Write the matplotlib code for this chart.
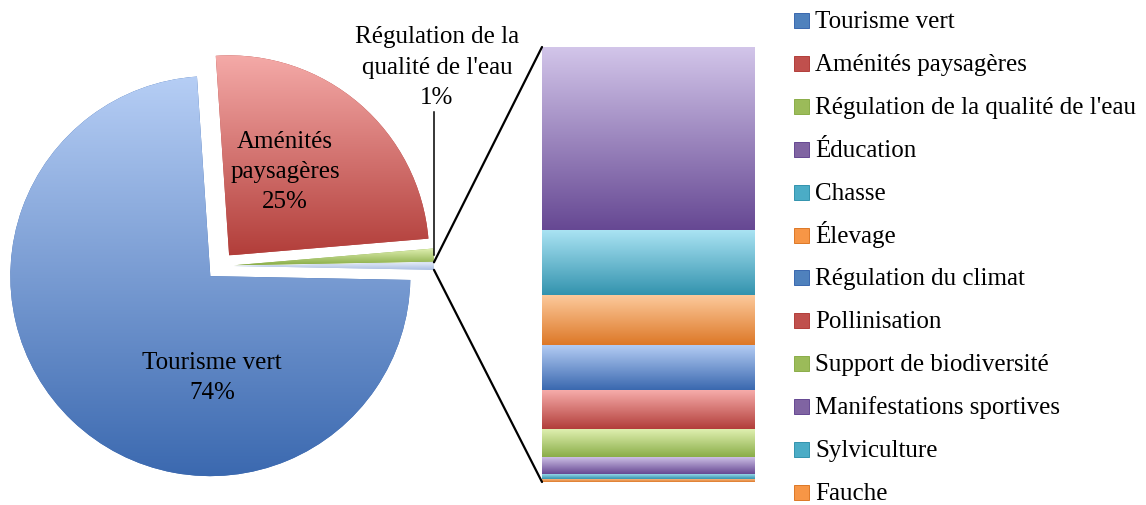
import numpy as np
import matplotlib
matplotlib.use("Agg")
import matplotlib.pyplot as plt
from matplotlib.colors import LinearSegmentedColormap
from matplotlib.patches import Rectangle, ConnectionPatch

# ---------------- data ----------------
pie_labels = ["Tourisme vert", "Aménités paysagères", "Régulation de la qualité de l'eau"]
pie_values = [53000, 17800, 750]

bar_labels = ["Éducation", "Chasse", "Élevage", "Régulation du climat", "Pollinisation",
              "Support de biodiversité", "Manifestations sportives", "Sylviculture", "Fauche"]
bar_values = [182, 64, 50, 45, 38, 28, 17, 5, 3]

# ---------------- style ----------------
FONT = "Liberation Serif"
FS = 18
plt.rcParams["font.family"] = [FONT, "DejaVu Serif"]

grad = {
    "blue":   ("#B6CEF5", "#3A68AF"),
    "red":    ("#F6ACAA", "#B23E3A"),
    "green":  ("#E2F2B4", "#8AAD48"),
    "purple": ("#D3C6EA", "#664893"),
    "aqua":   ("#AAE3F3", "#3393AE"),
    "orange": ("#FDCB9E", "#DD7827"),
    "other":  ("#E6EDF8", "#A9BEE2"),
}
solid = {"blue": "#4F81BD", "red": "#C0504D", "green": "#9BBB59",
         "purple": "#8064A2", "aqua": "#4BACC6", "orange": "#F79646"}
pie_cols = ["blue", "red", "green", "other"]
bar_cols = ["purple", "aqua", "orange", "blue", "red", "green", "purple", "aqua", "orange"]

W, H = 1146, 505
fig = plt.figure(figsize=(W / 100, H / 100), dpi=100)
ax = fig.add_axes([0, 0, 1, 1])


def gradient_fill(axis, patch, key, z):
    verts = patch.get_patch_transform().transform(patch.get_path().vertices)
    x0, y0 = verts.min(axis=0)
    x1, y1 = verts.max(axis=0)
    top, bot = grad[key]
    cmap = LinearSegmentedColormap.from_list("g", [bot, top])
    g = np.linspace(0, 1, 256).reshape(-1, 1)
    im = axis.imshow(g, extent=[x0, x1, y0, y1], origin="lower", cmap=cmap,
                     aspect="auto", zorder=z, interpolation="bicubic")
    im.set_clip_path(patch)
    return im


# ---------------- pie ----------------
other = sum(bar_values)
vals = pie_values + [other]
center = (220, H - 266)
R = 200
wedges, _ = ax.pie(vals, radius=R, center=center, startangle=-1.1, counterclock=False,
                   explode=[0.07 * R] * 4, frame=True,
                   wedgeprops=dict(linewidth=0.8))
for w, c in zip(wedges, pie_cols):
    w.set_facecolor(grad[c][1])
    w.set_edgecolor("#ffffff00")
    w.set_zorder(2)
    gradient_fill(ax, w, c, 2.5)

total = sum(vals)
pct = [round(100 * v / total) for v in vals]

LS = 1.5
ax.text(212, H - 378, f"{pie_labels[0]}\n{pct[0]}%", ha="center", va="center",
        fontsize=FS, linespacing=LS, zorder=5)
ax.text(285, H - 172, f"Aménités\npaysagères\n{pct[1]}%", ha="center", va="center",
        fontsize=FS, linespacing=LS, zorder=5)
ax.text(437, H - 68, f"Régulation de la\nqualité de l'eau\n{pct[2]}%", ha="center", va="center",
        fontsize=FS, linespacing=LS, zorder=5)
# leader line for the water quality label
wg = wedges[2]
tm = np.deg2rad((wg.theta1 + wg.theta2) / 2)
lx = wg.center[0] + wg.r * np.cos(tm)
ly = wg.center[1] + wg.r * np.sin(tm)
ax.plot([lx, lx], [ly, H - 112], color="black", lw=1.1, zorder=4)

# ---------------- bar ----------------
bx0, by0, bw, bh = 542, 23, 213, 435
axb = fig.add_axes([bx0 / W, by0 / H, bw / W, bh / H])
bottom = 0
stack = list(zip(bar_values, bar_cols))[::-1]
for v, c in stack:
    rects = axb.bar(0, v, bottom=bottom, width=1.0, color=grad[c][1], linewidth=0, zorder=2)
    gradient_fill(axb, rects[0], c, 2.5)
    bottom += v
axb.set_xlim(-0.5, 0.5)
axb.set_ylim(0, other)
axb.axis("off")

# connector lines from the "other" slice to the bar
wo = wedges[3]
for ang, yb in [(wo.theta2, other), (wo.theta1, 0)]:
    a = np.deg2rad(ang)
    px = wo.center[0] + wo.r * np.cos(a)
    py = wo.center[1] + wo.r * np.sin(a)
    con = ConnectionPatch(xyA=(px, py), coordsA=ax.transData,
                          xyB=(-0.5, yb), coordsB=axb.transData,
                          color="black", lw=1.6, zorder=6)
    fig.add_artist(con)

# ---------------- legend (manual, uniform rows) ----------------
leg_labels = pie_labels + bar_labels
leg_cols = pie_cols[:3] + bar_cols
for i, (lab, c) in enumerate(zip(leg_labels, leg_cols)):
    base = 28 + 42.9 * i          # text baseline, pixels from top
    sq = Rectangle((794, H - base), 15, 15, facecolor=solid[c],
                   edgecolor=grad[c][1], linewidth=0.7, zorder=5)
    ax.add_patch(sq)
    ax.text(815, H - base, lab, ha="left", va="baseline", fontsize=FS, zorder=5)

ax.set_xlim(0, W)
ax.set_ylim(0, H)
ax.set_aspect("equal")
ax.axis("off")

fig.savefig("out.png", dpi=100)
